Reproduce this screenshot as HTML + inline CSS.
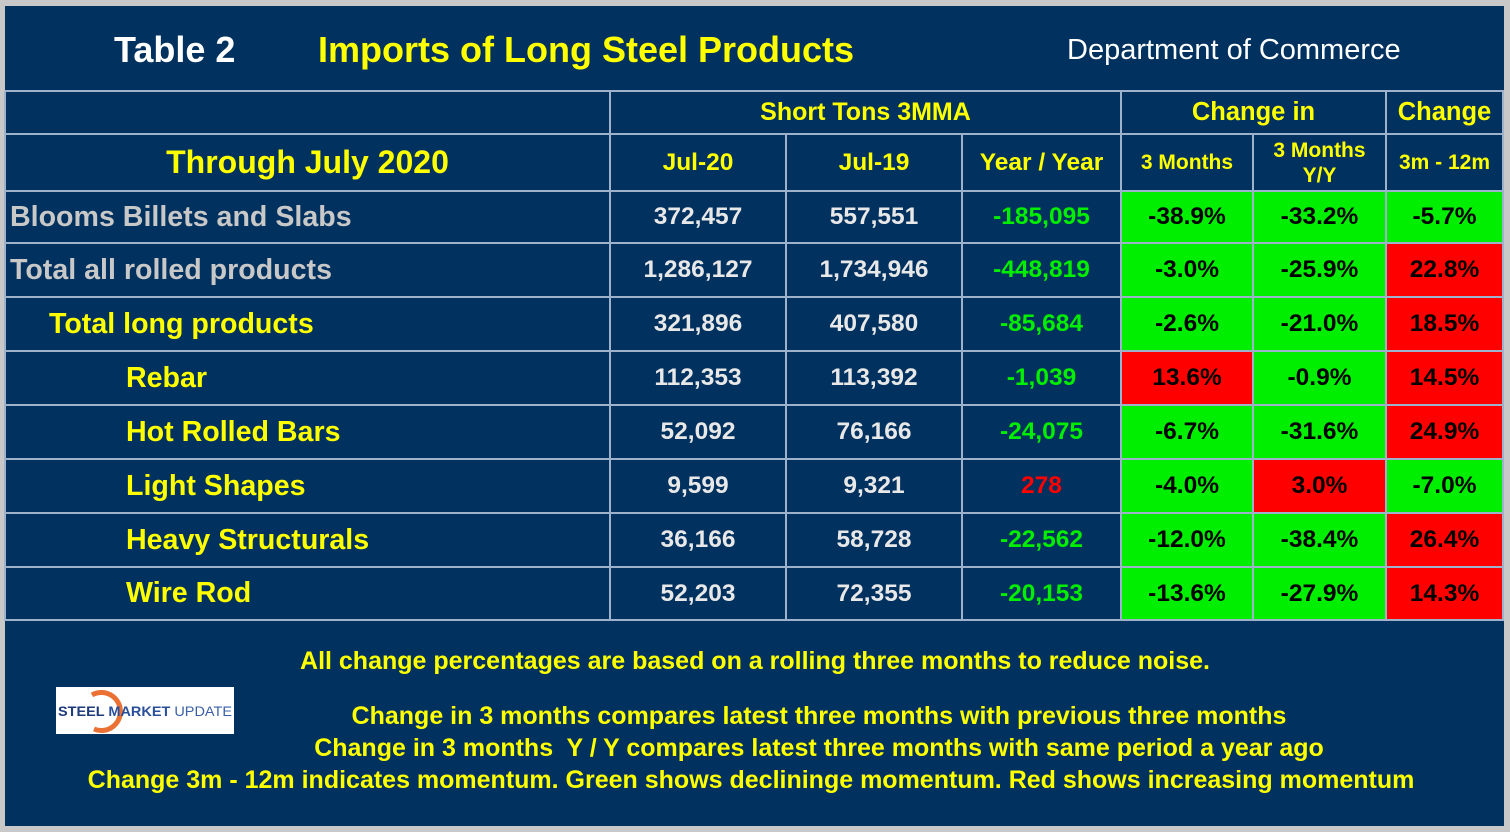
<!DOCTYPE html>
<html><head><meta charset="utf-8"><style>
body{margin:0;width:1510px;height:832px;background:#c8c8c8;overflow:hidden;font-family:"Liberation Sans",Arial,sans-serif;font-weight:bold}
#frame{position:absolute;left:5px;top:6px;width:1499px;height:820px;background:#00315f}
.t{position:absolute;white-space:nowrap}
.hl{position:absolute;height:2px;background:#9fb2cc}
.vl{position:absolute;width:2px;background:#9fb2cc}
.c{position:absolute;display:flex;align-items:center;justify-content:center;font-size:24.5px;color:#e8e8e8}
.lab{position:absolute;display:flex;align-items:center;font-size:28.6px}
</style></head><body>
<div id="frame"></div>
<div class="t" style="left:114px;top:29px;font-size:36px;color:#fff">Table 2</div>
<div class="t" style="left:318px;top:29px;font-size:36px;color:#ffff00">Imports of Long Steel Products</div>
<div class="t" style="left:1067px;top:34px;font-size:29px;font-weight:normal;color:#fff">Department of Commerce</div>
<div id="grid"></div>
<div class="t" style="left:0;width:1510px;text-align:center;top:647px;font-size:25px;color:#ffff00">All change percentages are based on a rolling three months to reduce noise.</div>
<div style="position:absolute;left:56px;top:687px;width:178px;height:47px;background:#fff;overflow:hidden">
<svg width="178" height="47"><path d="M44 8 A19 19 0 1 1 46 42" fill="none" stroke="#e8601e" stroke-width="5" opacity="0.9" transform="translate(-8,0)"/><text x="2" y="29" font-family="Liberation Sans" font-weight="bold" font-size="14" fill="#1d3a7a" textLength="174" lengthAdjust="spacingAndGlyphs">STEEL <tspan fill="#2a4f9a">MARKET</tspan> <tspan font-weight="normal" fill="#3a5fa8">UPDATE</tspan></text></svg></div>
<div class="t" style="left:0;width:1638px;text-align:center;top:702px;font-size:25px;color:#ffff00">Change in 3 months compares latest three months with previous three months</div>
<div class="t" style="left:0;width:1638px;text-align:center;top:734px;font-size:25px;color:#ffff00">Change in 3 months&nbsp; Y / Y compares latest three months with same period a year ago</div>
<div class="t" style="left:0;width:1502px;text-align:center;top:766px;font-size:25px;color:#ffff00">Change 3m - 12m indicates momentum. Green shows declininge momentum. Red shows increasing momentum</div>
<script>
const labels=["Blooms Billets and Slabs","Total all rolled products","Total long products","Rebar","Hot Rolled Bars","Light Shapes","Heavy Structurals","Wire Rod"];
const jul20=["372,457","1,286,127","321,896","112,353","52,092","9,599","36,166","52,203"];
const jul19=["557,551","1,734,946","407,580","113,392","76,166","9,321","58,728","72,355"];
const yoy=["-185,095","-448,819","-85,684","-1,039","-24,075","278","-22,562","-20,153"];
const ch3=["-38.9%","-3.0%","-2.6%","13.6%","-6.7%","-4.0%","-12.0%","-13.6%"];
const ch3yy=["-33.2%","-25.9%","-21.0%","-0.9%","-31.6%","3.0%","-38.4%","-27.9%"];
const mom=["-5.7%","22.8%","18.5%","14.5%","24.9%","-7.0%","26.4%","14.3%"];
const g=document.getElementById('grid');
const xs=[5,610,786,962,1121,1253,1386,1503];
const rowY=[191,243,297,351,405,459,513,567,620];
function add(cls,style,txt,name){const d=document.createElement('div');d.className=cls;d.style.cssText=style;if(txt!==undefined)d.textContent=txt;


g.appendChild(d);return d;}
function col(v){return v.startsWith('-')?'#00ee00':'#ff0000';}
labels.forEach((l,i)=>{const y=rowY[i],h=rowY[i+1]-y;
 const ind=i<2?10:(i==2?49:126);const lc=i<2?'#c8c8c8':'#ffff00';
 add('lab',`left:${ind}px;top:${y}px;height:${h}px;color:${lc}`,l,'row-label');
 add('c',`left:610px;width:176px;top:${y}px;height:${h}px`,jul20[i],'jul20-value');
 add('c',`left:786px;width:176px;top:${y}px;height:${h}px`,jul19[i],'jul19-value');
 add('c',`left:962px;width:159px;top:${y}px;height:${h}px;color:${yoy[i].startsWith('-')?'#00ee00':'#ff0000'}`,yoy[i],'yoy-value');
 [[ch3,4],[ch3yy,5],[mom,6]].forEach(([a,k])=>{add('c',`left:${xs[k]}px;width:${xs[k+1]-xs[k]}px;top:${y}px;height:${h}px;background:${col(a[i])};color:#000`,a[i],'change-cell');});
});
// lines
[91,134].concat(rowY).forEach(y=>add('hl',`left:5px;width:1499px;top:${y-1}px`,undefined,'grid-line'));
[610,1121,1386,1503].forEach(x=>add('vl',`left:${x-1}px;top:91px;height:530px`,undefined,'grid-line'));
[786,962,1253].forEach(x=>add('vl',`left:${x-1}px;top:134px;height:487px`,undefined,'grid-line'));
add('vl','left:4px;top:91px;height:530px',undefined,'grid-line');
// headers
add('c','left:610px;width:511px;top:91px;height:43px;color:#ffff00;font-size:25px','Short Tons 3MMA','header-short-tons');
add('c','left:1121px;width:265px;top:91px;height:43px;color:#ffff00;font-size:25.5px','Change in','header-change-in');
add('c','left:1386px;width:117px;top:91px;height:43px;color:#ffff00;font-size:25.5px','Change','header-change');
add('c','left:5px;width:605px;top:134px;height:57px;color:#ffff00;font-size:32px','Through July 2020','header-through');
add('c','left:610px;width:176px;top:134px;height:57px;color:#ffff00','Jul-20','header-jul20');
add('c','left:786px;width:176px;top:134px;height:57px;color:#ffff00','Jul-19','header-jul19');
add('c','left:962px;width:159px;top:134px;height:57px;color:#ffff00','Year / Year','header-yoy');
add('c','left:1121px;width:132px;top:134px;height:57px;color:#ffff00;font-size:21px','3 Months','header-3m');
const d=add('c','left:1253px;width:133px;top:134px;height:57px;color:#ffff00;font-size:21px;line-height:25px;text-align:center','','header-3m-yy');d.innerHTML='3 Months<br>Y/Y';
add('c','left:1386px;width:117px;top:134px;height:57px;color:#ffff00;font-size:21px','3m - 12m','header-3m-12m');
</script>
</body></html>
